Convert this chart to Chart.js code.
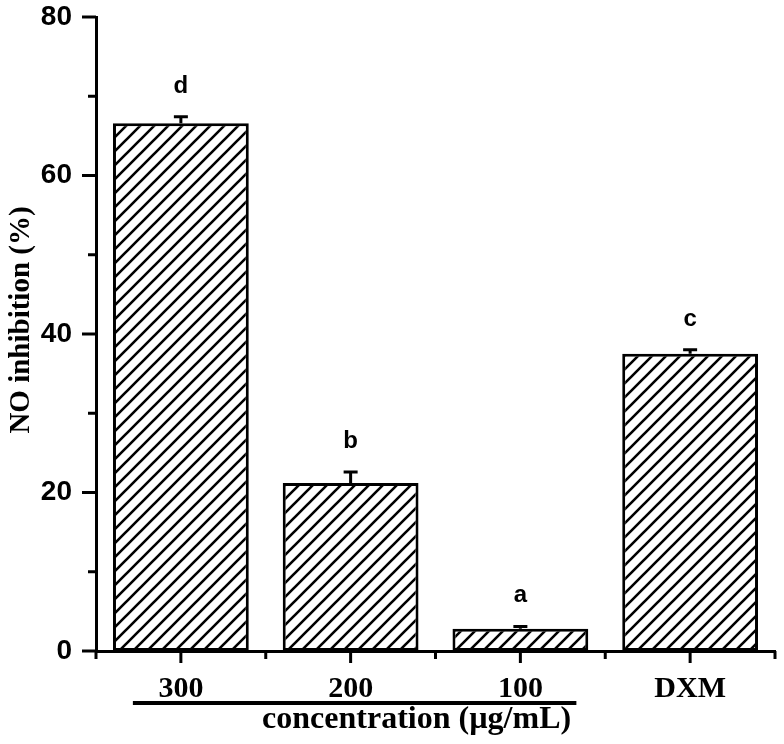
<!DOCTYPE html>
<html>
<head>
<meta charset="utf-8">
<script src="https://cdn.jsdelivr.net/npm/chart.js@4/dist/chart.umd.min.js"></script>
<style>
html,body{margin:0;padding:0;background:#fff;}
#wrap{width:784px;height:744px;}
</style>
</head>
<body>
<div id="wrap"><canvas id="c" width="784" height="744"></canvas></div>
<script>
// ---- data ----
const categories = ['300', '200', '100', 'DXM'];
const values = [66.6, 21.2, 2.8, 37.5];
const errors = [0.8, 1.4, 0.3, 0.5];
const letters = ['d', 'b', 'a', 'c'];
const yMin = 0, yMax = 80, yStep = 20, yMinorStep = 10;
const yTitle = 'NO inhibition (%)';
const xTitle = 'concentration (\u00b5g/mL)';
const groupedCount = 3; // first three categories share the concentration title

function hatch() {
  const s = 14;
  const c = document.createElement('canvas');
  c.width = s; c.height = s;
  const g = c.getContext('2d');
  g.fillStyle = '#fff';
  g.fillRect(0, 0, s, s);
  g.strokeStyle = '#000';
  g.lineWidth = 2.6;
  g.lineCap = 'square';
  g.beginPath();
  g.moveTo(-2, s + 2); g.lineTo(s + 2, -2);
  g.moveTo(-2, 2); g.lineTo(2, -2);
  g.moveTo(s - 2, s + 2); g.lineTo(s + 2, s - 2);
  g.stroke();
  return g.createPattern(c, 'repeat');
}

const decor = {
  id: 'decor',
  afterDatasetsDraw(chart) {
    const ctx = chart.ctx;
    const x = chart.scales.x, y = chart.scales.y;
    const area = chart.chartArea;
    ctx.save();
    ctx.strokeStyle = '#000';
    ctx.fillStyle = '#000';
    ctx.lineWidth = 3;
    ctx.lineCap = 'butt';
    // error bars
    values.forEach((v, i) => {
      const px = x.getPixelForValue(i);
      const top = y.getPixelForValue(v + errors[i]);
      const base = y.getPixelForValue(v);
      ctx.beginPath();
      ctx.moveTo(px, base); ctx.lineTo(px, top);
      ctx.moveTo(px - 7, top); ctx.lineTo(px + 7, top);
      ctx.stroke();
      // significance letters
      ctx.font = 'bold 24px "Liberation Sans", Arial, sans-serif';
      ctx.textAlign = 'center';
      ctx.textBaseline = 'alphabetic';
      ctx.fillText(letters[i], px, top - 24);
    });
    // y ticks (major + minor), outside to the left
    for (let v = yMin; v <= yMax; v += yMinorStep) {
      const py = y.getPixelForValue(v);
      const major = (v % yStep) === 0;
      ctx.beginPath();
      ctx.moveTo(area.left - (major ? 14 : 8), py);
      ctx.lineTo(area.left, py);
      ctx.stroke();
    }
    // x ticks: major at category centres, minor at boundaries
    const n = categories.length;
    for (let i = 0; i < n; i++) {
      const px = x.getPixelForValue(i);
      ctx.beginPath();
      ctx.moveTo(px, area.bottom); ctx.lineTo(px, area.bottom + 12);
      ctx.stroke();
    }
    for (let i = 0; i <= n; i++) {
      let px;
      if (i === 0) px = area.left;
      else if (i === n) px = area.right;
      else px = (x.getPixelForValue(i - 1) + x.getPixelForValue(i)) / 2;
      ctx.beginPath();
      ctx.moveTo(px, area.bottom); ctx.lineTo(px, area.bottom + 8);
      ctx.stroke();
    }
    // grouping underline + x title
    const lx0 = x.getPixelForValue(0) - 48;
    const lx1 = x.getPixelForValue(groupedCount - 1) + 56;
    ctx.lineWidth = 4;
    ctx.beginPath();
    ctx.moveTo(lx0, area.bottom + 52); ctx.lineTo(lx1, area.bottom + 52);
    ctx.stroke();
    ctx.font = 'bold 32px "Liberation Serif", "Times New Roman", serif';
    ctx.textAlign = 'center';
    ctx.textBaseline = 'alphabetic';
    ctx.fillText(xTitle, (lx0 + lx1) / 2 + 62, area.bottom + 77);
    // y title
    ctx.font = 'bold 29px "Liberation Serif", "Times New Roman", serif';
    ctx.save();
    ctx.translate(22, (area.top + area.bottom) / 2 - 14);
    ctx.rotate(-Math.PI / 2);
    ctx.textBaseline = 'middle';
    ctx.fillText(yTitle, 0, 0);
    ctx.restore();
    ctx.restore();
  }
};

new Chart(document.getElementById('c'), {
  type: 'bar',
  data: {
    labels: categories,
    datasets: [{
      data: values,
      backgroundColor: hatch(),
      borderColor: '#000',
      borderWidth: 3,
      borderSkipped: false,
      barPercentage: 0.8,
      categoryPercentage: 1.0
    }]
  },
  options: {
    responsive: false,
    animation: false,
    devicePixelRatio: 1,
    layout: { padding: { top: 17, right: 9, left: 0, bottom: 0 } },
    plugins: { legend: { display: false }, tooltip: { enabled: false } },
    scales: {
      x: {
        offset: true,
        grid: { display: false, drawTicks: true, tickLength: 20, tickColor: 'rgba(0,0,0,0)' },
        border: { display: true, color: '#000', width: 3 },
        ticks: {
          color: '#000',
          padding: 0,
          font: { family: '"Liberation Serif", "Times New Roman", serif', size: 30, weight: 'bold' }
        },
        afterFit(s) { s.height = 93; }
      },
      y: {
        min: yMin, max: yMax,
        grid: { display: false, drawTicks: true, tickLength: 24, tickColor: 'rgba(0,0,0,0)' },
        border: { display: true, color: '#000', width: 3 },
        ticks: {
          stepSize: yStep,
          color: '#000',
          padding: 0,
          font: { family: '"Liberation Sans", Arial, sans-serif', size: 28, weight: 'bold' }
        },
        afterFit(s) { s.width = 96; }
      }
    }
  },
  plugins: [decor]
});
</script>
</body>
</html>
